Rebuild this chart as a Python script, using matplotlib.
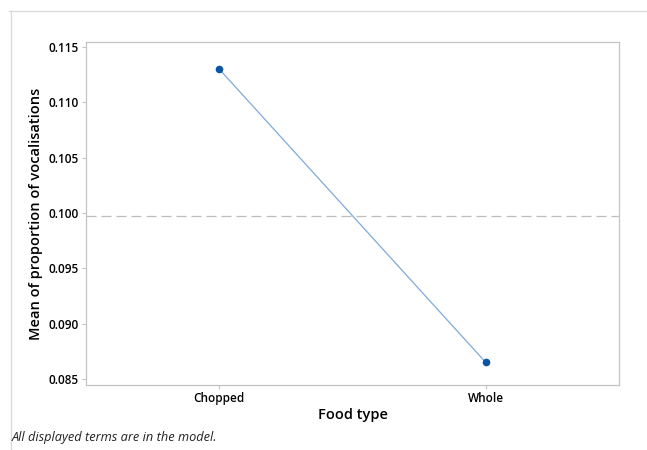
import matplotlib
matplotlib.use("Agg")
import matplotlib.pyplot as plt
from matplotlib.lines import Line2D

# main effects of food type on vocalisation proportion
food_types = ["Chopped", "Whole"]
means = [0.1130, 0.0865]
grand_mean = 0.09975
y_ticks = [0.085, 0.090, 0.095, 0.100, 0.105, 0.110, 0.115]

plt.rcParams["font.family"] = ["Open Sans", "DejaVu Sans"]

fig = plt.figure(figsize=(6.47, 4.5), dpi=100)
ax = fig.add_axes([86 / 647, 1 - 385 / 450, 533 / 647, 343 / 450])

x = list(range(len(food_types)))
ax.axhline(grand_mean, color="#bdbdbd", lw=0.9, ls=(0, (8, 4)), zorder=1)
ax.plot(x, means, color="#7faad8", lw=0.9, zorder=2)
ax.plot(x, means, "o", color="#0a56a5", ms=4.5, zorder=3)

ax.set_xlim(-0.5, 1.5)
ax.set_ylim(0.08446, 0.11545)
ax.set_xticks(x)
ax.set_xticklabels(food_types)
ax.set_yticks(y_ticks)
ax.set_yticklabels([f"{v:.3f}" for v in y_ticks])

for s in ax.spines.values():
    s.set_color("#c4c4c4")
    s.set_linewidth(0.9)
ax.tick_params(length=3, width=0.8, color="#c4c4c4", labelsize=8.5,
               labelcolor="#000000", pad=2)
for lbl in ax.get_xticklabels() + ax.get_yticklabels():
    lbl.set_fontweight("semibold")

ax.set_xlabel("Food type", fontsize=10.5, fontweight="semibold", labelpad=2)
ax.set_ylabel("Mean of proportion of vocalisations", fontsize=10.5,
              fontweight="semibold", labelpad=4)

fig.text(12 / 647, 1 - 438 / 450, "All displayed terms are in the model.",
         fontsize=9.2, style="italic", color="#222222", va="center")

# outer panel border
fig.add_artist(Line2D([9 / 647, 1], [1 - 11 / 450] * 2, color="#dcdcdc", lw=1))
fig.add_artist(Line2D([11 / 647] * 2, [0, 1 - 11 / 450], color="#dcdcdc", lw=1))

fig.savefig("out.png", dpi=100)
